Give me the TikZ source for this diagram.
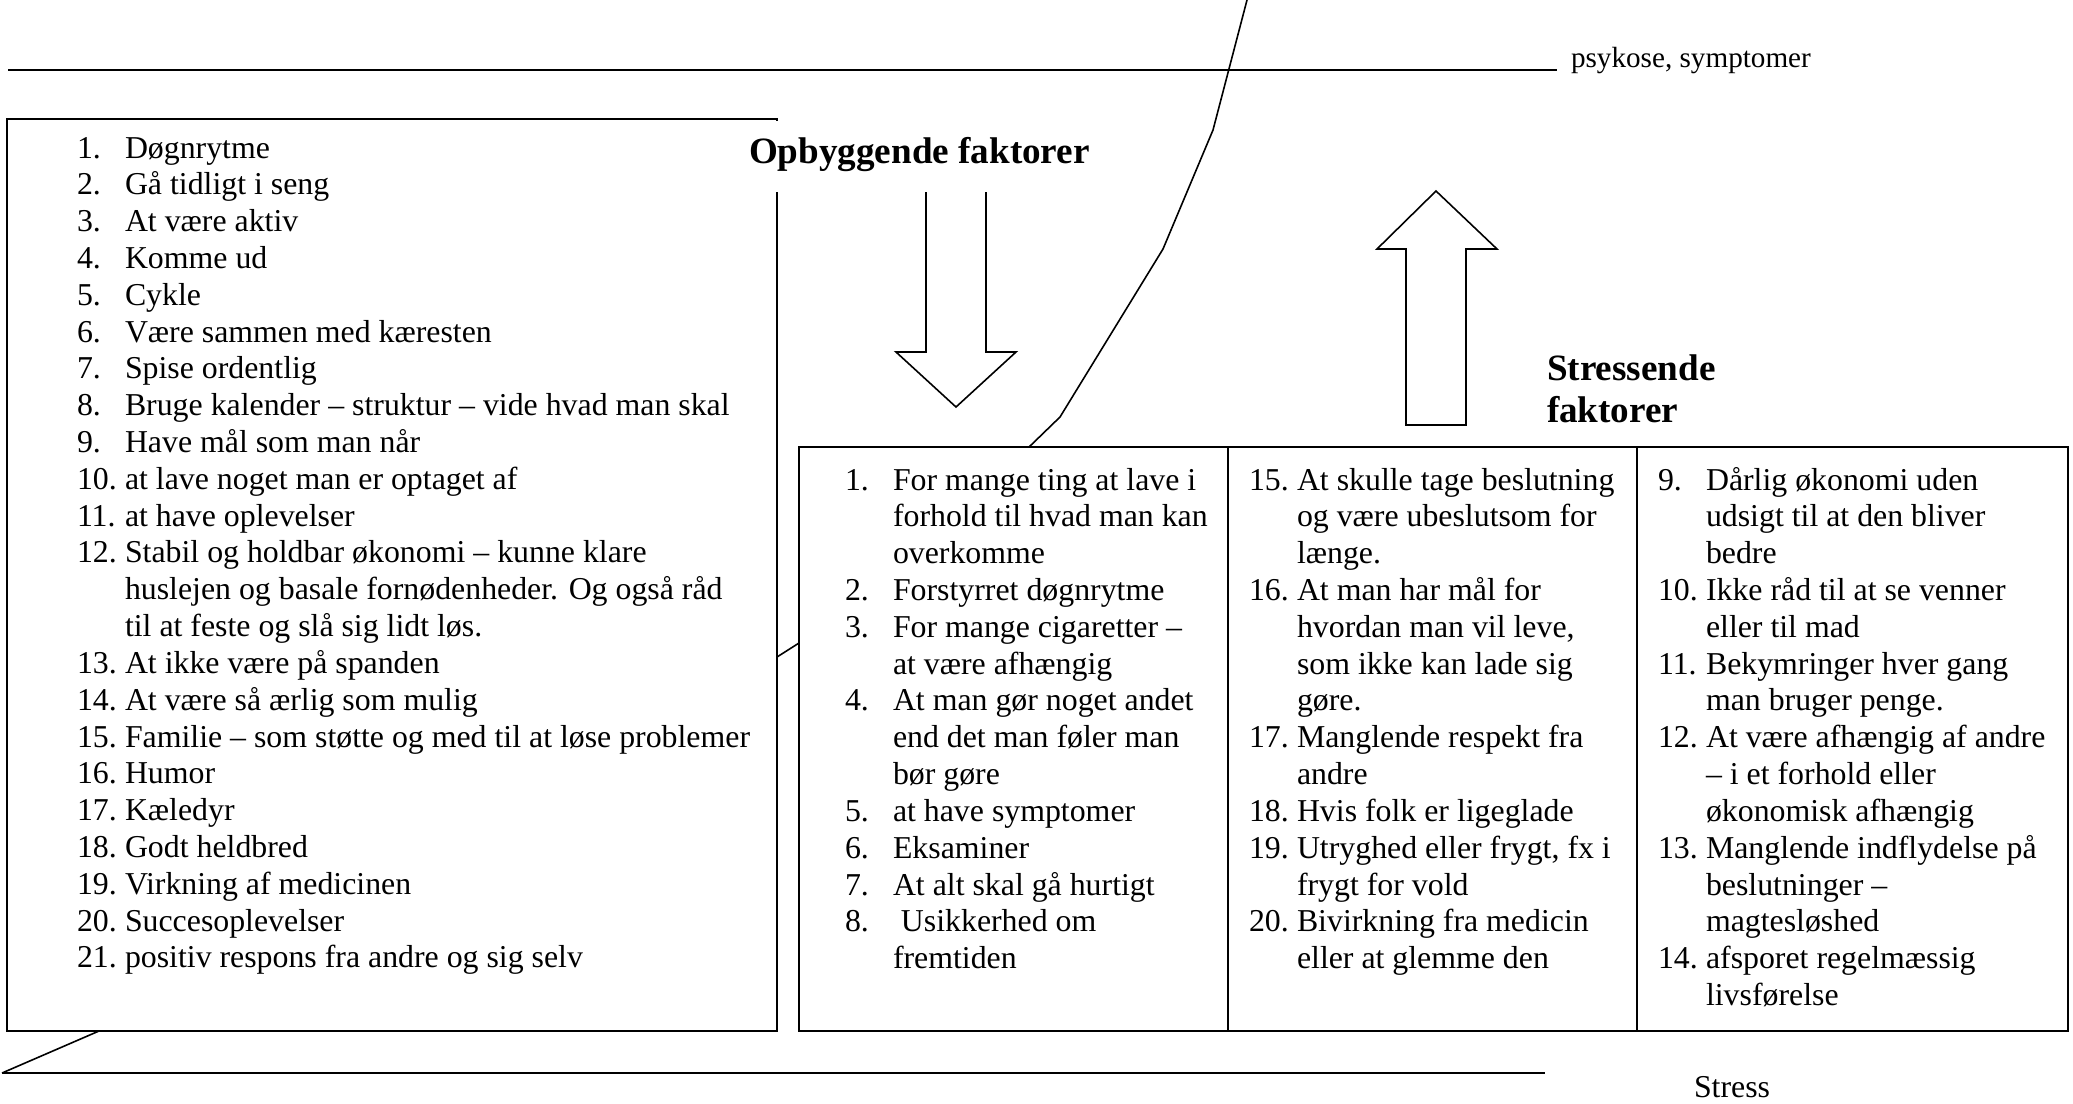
\documentclass[tikz,border=0pt]{standalone}
\usepackage{fontspec}
\setmainfont{Liberation Serif}
\newcommand\li[2]{\makebox[18.1pt][l]{#1}#2\\}
\begin{document}
\begin{tikzpicture}[x=0.377pt,y=-0.377pt,
  every node/.style={inner sep=0pt,outer sep=0pt},
  listtext/.style={anchor=base west,font=\fontsize{12}{13.88}\selectfont},
  headtext/.style={anchor=base west,font=\fontsize{14}{15.8}\selectfont\bfseries},
  plaintext/.style={anchor=base west,font=\fontsize{12}{13.8}\selectfont},
  levelline/.style={line width=1pt},
  boxline/.style={line width=0.8pt,fill=white},
  thinline/.style={line width=0.6pt,line join=miter}]
\useasboundingbox (0,0) rectangle (2073,1103);

% level lines
\coordinate (tl1) at (8,70);
\coordinate (tl2) at (1557,70);
\coordinate (bl1) at (2,1073);
\coordinate (bl2) at (1545,1073);
\draw[levelline] (tl1) -- (tl2);
\draw[levelline] (bl1) -- (bl2);

% curve (partly hidden behind the boxes)
\coordinate (c0) at (1247,0);
\coordinate (c1) at (1213,130);
\coordinate (c2) at (1163,249);
\coordinate (c3) at (1060,417);
\coordinate (c4) at (1028,448);
\coordinate (c5) at (799,643);
\coordinate (c6) at (777,657);
\coordinate (c7) at (99,1031);
\draw[thinline] (c0) -- (c1) -- (c2) -- (c3) -- (c4) -- (c5) -- (c6) -- (c7) -- (bl1);

% boxes
\draw[boxline] (7,119) rectangle (777,1031);
\draw[boxline] (799,447) rectangle (2068,1031);
\draw[line width=0.8pt] (1228,447) -- (1228,1031);
\draw[line width=0.8pt] (1637,447) -- (1637,1031);

% arrows
\draw[thinline] (926,150) -- (926,352) -- (896,352) -- (956,407) -- (1016,352) -- (986,352) -- (986,150) -- cycle;
\draw[thinline] (1406,425) -- (1406,249) -- (1377,249) -- (1436,191) -- (1497,249) -- (1466,249) -- (1466,425) -- cycle;

% heading text box (white, hides the box edge and the arrow top)
\fill[white] (727,121) rectangle (1100,192);

% labels
\node[plaintext,font=\fontsize{11}{13}\selectfont] (psy) at (1571,67) {psykose, symptomer};
\node[plaintext] (stress) at (1694,1097) {Stress};
\node[headtext] (opb) at (749,163) {Opbyggende faktorer};
\node[headtext] (str1) at (1547,380) {Stressende};
\node[headtext] (str2) at (1547,422) {faktorer};

% left list
\node[listtext] (left) at (77,158) {\begin{tabular}[t]{@{}l@{}}
\li{1.}{Døgnrytme}
\li{2.}{Gå tidligt i seng}
\li{3.}{At være aktiv}
\li{4.}{Komme ud}
\li{5.}{Cykle}
\li{6.}{Være sammen med kæresten}
\li{7.}{Spise ordentlig}
\li{8.}{Bruge kalender – struktur – vide hvad man skal}
\li{9.}{Have mål som man når}
\li{10.}{at lave noget man er optaget af}
\li{11.}{at have oplevelser}
\li{12.}{Stabil og holdbar økonomi – kunne klare}
\li{}{huslejen og basale fornødenheder. Og også råd}
\li{}{til at feste og slå sig lidt løs.}
\li{13.}{At ikke være på spanden}
\li{14.}{At være så ærlig som mulig}
\li{15.}{Familie – som støtte og med til at løse problemer}
\li{16.}{Humor}
\li{17.}{Kæledyr}
\li{18.}{Godt heldbred}
\li{19.}{Virkning af medicinen}
\li{20.}{Succesoplevelser}
\li{21.}{positiv respons fra andre og sig selv}
\end{tabular}};

% stress column 1
\node[listtext] (col1) at (845,490) {\begin{tabular}[t]{@{}l@{}}
\li{1.}{For mange ting at lave i}
\li{}{forhold til hvad man kan}
\li{}{overkomme}
\li{2.}{Forstyrret døgnrytme}
\li{3.}{For mange cigaretter –}
\li{}{at være afhængig}
\li{4.}{At man gør noget andet}
\li{}{end det man føler man}
\li{}{bør gøre}
\li{5.}{at have symptomer}
\li{6.}{Eksaminer}
\li{7.}{At alt skal gå hurtigt}
\li{8.}{\hspace{3pt}Usikkerhed om}
\li{}{fremtiden}
\end{tabular}};

% stress column 2
\node[listtext] (col2) at (1249,490) {\begin{tabular}[t]{@{}l@{}}
\li{15.}{At skulle tage beslutning}
\li{}{og være ubeslutsom for}
\li{}{længe.}
\li{16.}{At man har mål for}
\li{}{hvordan man vil leve,}
\li{}{som ikke kan lade sig}
\li{}{gøre.}
\li{17.}{Manglende respekt fra}
\li{}{andre}
\li{18.}{Hvis folk er ligeglade}
\li{19.}{Utryghed eller frygt, fx i}
\li{}{frygt for vold}
\li{20.}{Bivirkning fra medicin}
\li{}{eller at glemme den}
\end{tabular}};

% stress column 3
\node[listtext] (col3) at (1658,490) {\begin{tabular}[t]{@{}l@{}}
\li{9.}{Dårlig økonomi uden}
\li{}{udsigt til at den bliver}
\li{}{bedre}
\li{10.}{Ikke råd til at se venner}
\li{}{eller til mad}
\li{11.}{Bekymringer hver gang}
\li{}{man bruger penge.}
\li{12.}{At være afhængig af andre}
\li{}{– i et forhold eller}
\li{}{økonomisk afhængig}
\li{13.}{Manglende indflydelse på}
\li{}{beslutninger –}
\li{}{magtesløshed}
\li{14.}{afsporet regelmæssig}
\li{}{livsførelse}
\end{tabular}};
\end{tikzpicture}
\end{document}
